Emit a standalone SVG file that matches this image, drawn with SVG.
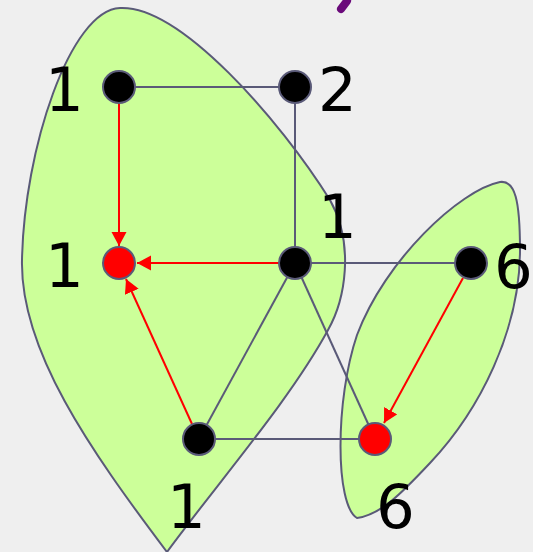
<svg xmlns="http://www.w3.org/2000/svg" width="533" height="552" viewBox="0 0 533 552">
<style>
.blob{fill:#ccff99;stroke:#5a5a78;stroke-width:2}
.edge{stroke:#5a5a78;stroke-width:2;fill:none}
.arc{stroke:#ff0000;stroke-width:2;fill:none;marker-end:url(#ah)}
.node{stroke:#5a5a78;stroke-width:2}
.blk{fill:#000000}
.red{fill:#ff0000}
.lbl{font-family:"DejaVu Sans",Verdana,sans-serif;font-size:61px;fill:#000000}
</style>
<defs>
<marker id="ah" markerUnits="userSpaceOnUse" markerWidth="15" markerHeight="16" refX="14" refY="7.5" orient="auto">
<path d="M0,0 L14,7.5 L0,15 Z" fill="#ff0000"/>
</marker>
</defs>
<rect x="0" y="0" width="533" height="552" fill="#efefef"/>
<path d="M347,1 L341,9" stroke="#6a0a7a" stroke-width="8" stroke-linecap="round"/>
<g id="regions">
<path id="region-left" class="blob" d="M167,552 C90,450 20,350 22,260 C24,150 70,10 120,8 C180,5 280,120 330,200 C355,245 345,300 328,330 C290,400 220,480 167,552 Z"/>
<path id="region-right" class="blob" d="M357,518 C335,505 335,400 357,335 C385,260 460,190 500,182 C515,180 520,200 520,250 C520,330 480,410 430,463 C400,495 380,515 357,518 Z"/>
</g>
<g id="connectors">
<line class="edge" x1="119" y1="87" x2="295" y2="87"/>
<line class="edge" x1="295" y1="87" x2="295" y2="263"/>
<line class="edge" x1="295" y1="263" x2="471" y2="263"/>
<line class="edge" x1="295" y1="263" x2="199" y2="439"/>
<line class="edge" x1="295" y1="263" x2="375" y2="439"/>
<line class="edge" x1="199" y1="439" x2="375" y2="439"/>
<line class="arc" x1="119" y1="103" x2="119" y2="246"/>
<line class="arc" x1="279" y1="263" x2="137" y2="263"/>
<line class="arc" x1="192" y1="424" x2="126" y2="279"/>
<line class="arc" x1="463" y1="278" x2="384" y2="423"/>
</g>
<g id="n1"><circle class="node blk" cx="119" cy="87" r="16"/></g>
<g id="n2"><circle class="node blk" cx="295" cy="87" r="16"/></g>
<g id="n3"><circle class="node red" cx="119" cy="263" r="16"/></g>
<g id="n4"><circle class="node blk" cx="295" cy="263" r="16"/></g>
<g id="n5"><circle class="node blk" cx="471" cy="263" r="16"/></g>
<g id="n6"><circle class="node blk" cx="199" cy="439" r="16"/></g>
<g id="n7"><circle class="node red" cx="375" cy="439" r="16"/></g>
<g id="labels">
<text class="lbl" x="45" y="111">1</text>
<text class="lbl" x="318" y="111">2</text>
<text class="lbl" x="45" y="287">1</text>
<text class="lbl" x="318" y="238">1</text>
<text class="lbl" x="494" y="288">6</text>
<text class="lbl" x="167" y="528">1</text>
<text class="lbl" x="376" y="528">6</text>
</g>
</svg>
